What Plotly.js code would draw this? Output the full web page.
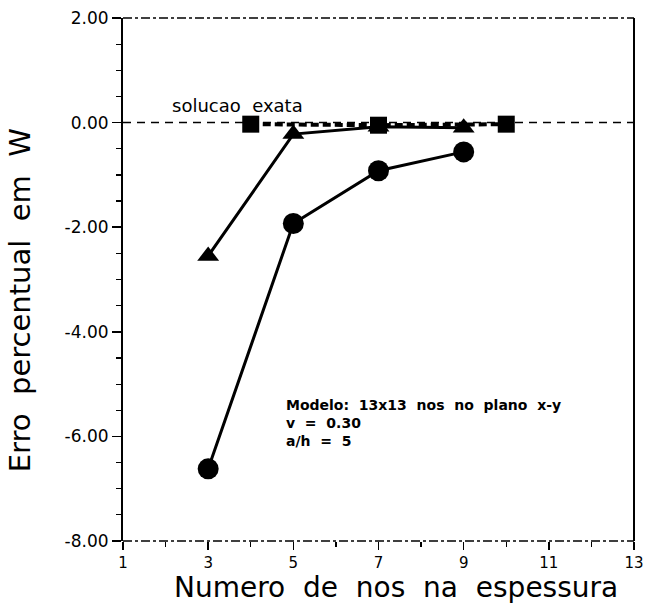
<!DOCTYPE html>
<html>
<head>
<meta charset="utf-8">
<script src="https://cdn.plot.ly/plotly-3.0.1.min.js"></script>
<style>body{margin:0;background:#fff}#plot{width:664px;height:609px}</style>
</head>
<body>
<div id="plot"></div>
<script>
// Data
var circleX = [3, 5, 7, 9];
var circleY = [-6.62, -1.93, -0.92, -0.56];
var triX = [3, 5, 7, 9];
var triY = [-2.55, -0.22, -0.08, -0.10];
var sqX = [4, 7, 10];
var sqY = [-0.03, -0.05, -0.03];
var exactX = [1, 13];
var exactY = [0, 0];
var xTicks = [1, 3, 5, 7, 9, 11, 13];
var yTicks = [-8, -6, -4, -2, 0, 2];
var xTitleWords = ['Numero', 'de', 'nos', 'na', 'espessura'];
var yTitleWords = ['Erro', 'percentual', 'em', 'W'];

var font = "DejaVu Sans, Verdana, sans-serif";
var sp = '&nbsp;&nbsp;';

var traces = [
  {x: exactX, y: exactY, mode: 'lines', line: {color: '#000', width: 1.5, dash: '8px,6px'}, hoverinfo: 'skip'},
  {x: circleX, y: circleY, mode: 'lines+markers', line: {color: '#000', width: 3},
   marker: {symbol: 'circle', size: 21, color: '#000'}},
  {x: triX, y: triY, mode: 'lines+markers', line: {color: '#000', width: 3},
   marker: {symbol: 'triangle-up', size: 19, color: '#000'}},
  {x: sqX, y: sqY, mode: 'lines+markers', line: {color: '#000', width: 4, dash: '8px,4px'},
   marker: {symbol: 'square', size: 17, color: '#000'}}
];

var layout = {
  width: 664, height: 609,
  margin: {l: 123, r: 30, t: 18, b: 68},
  paper_bgcolor: '#fff', plot_bgcolor: '#fff',
  showlegend: false,
  font: {family: font, color: '#000'},
  xaxis: {
    range: [1, 13], tickvals: xTicks, ticktext: xTicks.map(String),
    showgrid: false, zeroline: false, showline: false,
    ticks: 'outside', ticklen: 8, tickwidth: 1.5, tickcolor: '#000',
    tickfont: {family: font, size: 15, color: '#000'},
    minor: {dtick: 1, tick0: 1, ticks: 'outside', ticklen: 5, tickwidth: 1.2, tickcolor: '#000', showgrid: false}
  },
  yaxis: {
    range: [-8, 2], tickvals: yTicks, ticktext: yTicks.map(function(v){return v.toFixed(2);}),
    showgrid: false, zeroline: false, showline: true, linecolor: '#000', linewidth: 2,
    ticks: 'outside', ticklen: 9, tickwidth: 1.5, tickcolor: '#000',
    tickfont: {family: font, size: 17, color: '#000'},
    minor: {dtick: 0.5, tick0: 0, ticks: 'outside', ticklen: 5, tickwidth: 1.2, tickcolor: '#000', showgrid: false}
  },
  shapes: [
    {type: 'line', xref: 'paper', yref: 'paper', x0: 0, x1: 1, y0: 1, y1: 1, line: {color: '#000', width: 1.5, dash: 'dashdot'}},
    {type: 'line', xref: 'paper', yref: 'paper', x0: 0, x1: 1, y0: 0, y1: 0, line: {color: '#000', width: 1.5, dash: 'dashdot'}},
    {type: 'line', xref: 'paper', yref: 'paper', x0: 1, x1: 1, y0: 0, y1: 1, line: {color: '#000', width: 2}}
  ],
  annotations: [
    {x: 2.1, y: 0.08, xref: 'x', yref: 'y', xanchor: 'left', yanchor: 'bottom', showarrow: false,
     text: 'solucao' + sp + 'exata', font: {family: font, size: 18, color: '#000'}},
    {x: 4.78, y: -5.2, xref: 'x', yref: 'y', xanchor: 'left', yanchor: 'top', showarrow: false, align: 'left',
     text: '<b>Modelo:' + sp + '13x13' + sp + 'nos' + sp + 'no' + sp + 'plano' + sp + 'x-y</b><br><b>v' + sp + '=' + sp + '0.30</b><br><b>a/h' + sp + '=' + sp + '5</b>',
     font: {family: font, size: 14, color: '#000'}},
    {x: 0.535, y: -0.125, xref: 'paper', yref: 'paper', xanchor: 'center', yanchor: 'bottom', showarrow: false,
     text: xTitleWords.join(sp), font: {family: font, size: 28, color: '#000'}},
    {x: -0.2, y: 0.46, xref: 'paper', yref: 'paper', xanchor: 'center', yanchor: 'middle', showarrow: false, textangle: -90,
     text: yTitleWords.join(sp), font: {family: font, size: 29, color: '#000'}}
  ]
};

Plotly.newPlot('plot', traces, layout, {displayModeBar: false, staticPlot: true});
</script>
</body>
</html>
